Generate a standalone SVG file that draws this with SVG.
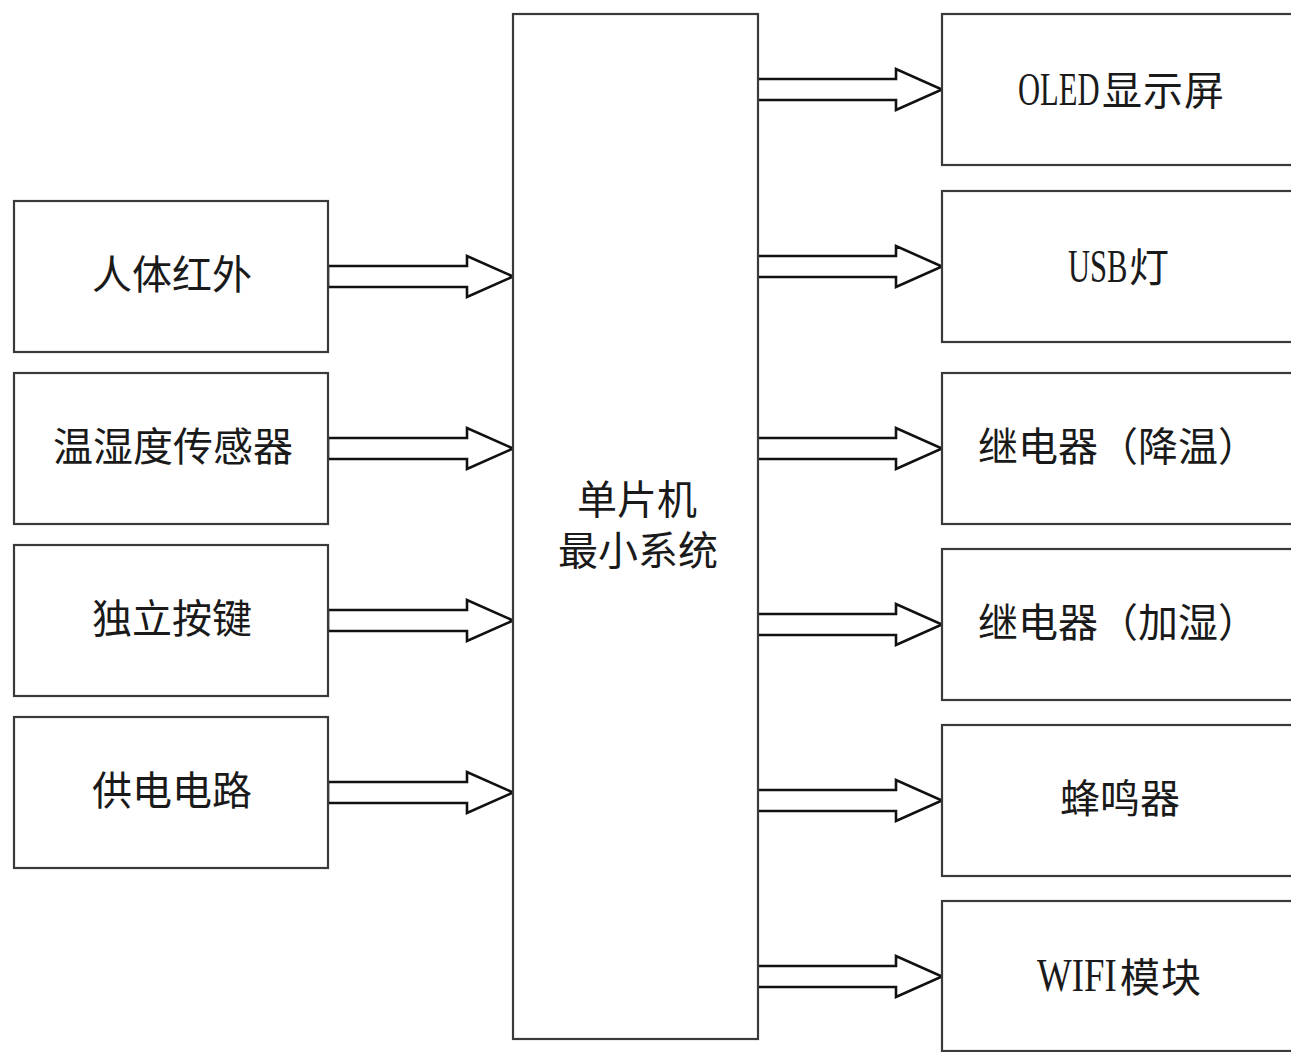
<svg xmlns="http://www.w3.org/2000/svg" width="1291" height="1052" viewBox="0 0 1291 1052">
<style>
.box{fill:#fff;stroke:#3a3a3a;stroke-width:2.2}
.arr{fill:#fff;stroke:#111;stroke-width:2.6;stroke-linejoin:miter}
.t{font-family:"Liberation Serif","Noto Sans CJK SC",serif;font-size:40px;fill:#1a1a1a;text-anchor:middle;dominant-baseline:central}
.m{font-family:"Noto Sans CJK SC",sans-serif;font-size:40px;fill:#1a1a1a;dominant-baseline:central;letter-spacing:1px}
.l{font-family:"Liberation Serif",serif;font-size:46px;fill:#1a1a1a;dominant-baseline:central}
</style>
<defs>
<path id="arrow" d="M0,-10.5 H139 V-20.5 L185,0 L139,20.5 V10.5 H0 Z"/>
</defs>
<rect width="1291" height="1052" fill="#fff"/>
<g id="connectors">
<use href="#arrow" class="arr" transform="translate(328,276.5)"/>
<use href="#arrow" class="arr" transform="translate(328,448.5)"/>
<use href="#arrow" class="arr" transform="translate(328,620.5)"/>
<use href="#arrow" class="arr" transform="translate(328,792.5)"/>
<use href="#arrow" class="arr" transform="translate(757,89.5)"/>
<use href="#arrow" class="arr" transform="translate(757,266.5)"/>
<use href="#arrow" class="arr" transform="translate(757,448.5)"/>
<use href="#arrow" class="arr" transform="translate(757,624.5)"/>
<use href="#arrow" class="arr" transform="translate(757,800.5)"/>
<use href="#arrow" class="arr" transform="translate(757,976.5)"/>
</g>
<g id="mcu">
<rect class="box" x="513" y="14" width="245" height="1025"/>
<text class="t" x="637" y="500">单片机</text>
<text class="t" x="638" y="551">最小系统</text>
</g>
<g id="pir"><rect class="box" x="14" y="201" width="314" height="151"/><text class="t" x="172" y="275">人体红外</text></g>
<g id="dht"><rect class="box" x="14" y="373" width="314" height="151"/><text class="t" x="173" y="447">温湿度传感器</text></g>
<g id="key"><rect class="box" x="14" y="545" width="314" height="151"/><text class="t" x="172" y="619">独立按键</text></g>
<g id="power"><rect class="box" x="14" y="717" width="314" height="151"/><text class="t" x="172" y="791">供电电路</text></g>
<g id="oled"><rect class="box" x="942" y="14" width="360" height="151"/>
<text class="l" transform="translate(1018,89) scale(0.665,1)">OLED</text>
<text class="m" x="1102" y="88">显示屏</text></g>
<g id="usb"><rect class="box" x="942" y="191" width="360" height="151"/>
<text class="l" transform="translate(1068,266) scale(0.665,1)">USB</text>
<text class="m" x="1129" y="265">灯</text></g>
<g id="relay1"><rect class="box" x="942" y="373" width="360" height="151"/><text class="t" x="1118" y="447">继电器（降温）</text></g>
<g id="relay2"><rect class="box" x="942" y="549" width="360" height="151"/><text class="t" x="1118" y="623">继电器（加湿）</text></g>
<g id="buzzer"><rect class="box" x="942" y="725" width="360" height="151"/><text class="t" x="1120" y="799">蜂鸣器</text></g>
<g id="wifi"><rect class="box" x="942" y="901" width="360" height="150"/>
<text class="l" transform="translate(1037,976) scale(0.8,1)">WIFI</text>
<text class="m" x="1120" y="975">模块</text></g>
</svg>
